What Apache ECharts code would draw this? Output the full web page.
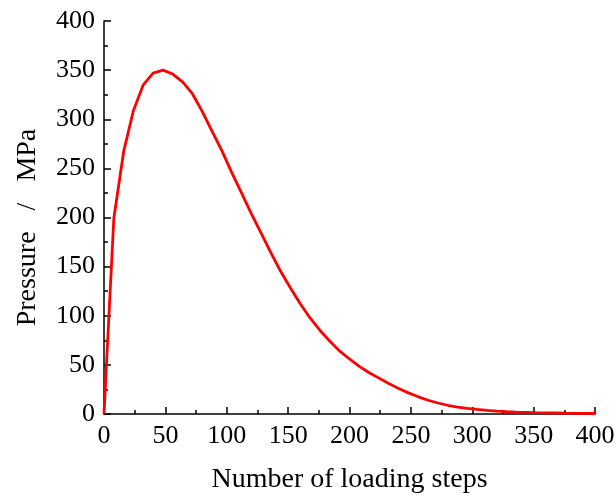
<!DOCTYPE html>
<html>
<head>
<meta charset="utf-8">
<script src="https://cdn.jsdelivr.net/npm/echarts@6/dist/echarts.min.js"></script>
<style>
  html, body { margin: 0; padding: 0; background: #fff; }
  #chart { width: 616px; height: 496px; }
</style>
</head>
<body>
<div id="chart"></div>
<script>
// loading steps (every 8 steps)
var steps = [];
for (var s = 0; s <= 400; s += 8) steps.push(s);

// pressure in MPa
var pressure = [
  0, 199, 267, 309, 335, 347, 350, 346, 338, 326,
  308, 288, 268, 246, 225, 204, 184, 164, 145, 128,
  112, 97.5, 85, 74, 64, 56, 48.5, 42, 36.5, 31,
  26, 21.5, 17.5, 14, 11.2, 8.9, 7.1, 5.7, 4.6, 3.7,
  3.0, 2.4, 2.0, 1.7, 1.4, 1.2, 1.0, 0.8, 0.7, 0.6,
  0.5
];

var points = steps.map(function (x, i) { return [x, pressure[i]]; });

var font = "'Liberation Serif', 'Times New Roman', serif";

var chart = echarts.init(document.getElementById("chart"));
chart.setOption({
  animation: false,
  backgroundColor: "#fff",
  grid: { left: 104, right: 21, top: 21, bottom: 82, outerBoundsMode: "none" },
  xAxis: {
    type: "value",
    min: 0,
    max: 400,
    interval: 50,
    name: "Number of loading steps",
    nameLocation: "middle",
    nameGap: 52,
    nameTextStyle: { fontFamily: font, fontSize: 28, color: "#000" },
    axisLine: { show: true, onZero: false, lineStyle: { color: "#000", width: 1.5 } },
    axisTick: { show: true, inside: true, length: 7, lineStyle: { color: "#000", width: 1.5 } },
    minorTick: { show: true, splitNumber: 2, length: 4, lineStyle: { color: "#000", width: 1.5 } },
    axisLabel: { fontFamily: font, fontSize: 26, color: "#000", margin: 9 },
    splitLine: { show: false }
  },
  yAxis: {
    type: "value",
    min: 0,
    max: 400,
    interval: 50,
    name: "Pressure   /   MPa",
    nameLocation: "middle",
    nameGap: 62,
    nameTextStyle: { fontFamily: font, fontSize: 28, color: "#000", padding: [0, 20, 0, 0] },
    axisLine: { show: true, onZero: false, lineStyle: { color: "#000", width: 1.5 } },
    axisTick: { show: true, inside: true, length: 7, lineStyle: { color: "#000", width: 1.5 } },
    minorTick: { show: true, splitNumber: 2, length: 4, lineStyle: { color: "#000", width: 1.5 } },
    axisLabel: { fontFamily: font, fontSize: 26, color: "#000", margin: 9 },
    splitLine: { show: false }
  },
  series: [
    {
      type: "line",
      data: points,
      showSymbol: false,
      smooth: false,
      lineStyle: { color: "#ff0000", width: 2.8 },
      itemStyle: { color: "#ff0000" }
    }
  ]
});
</script>
</body>
</html>
